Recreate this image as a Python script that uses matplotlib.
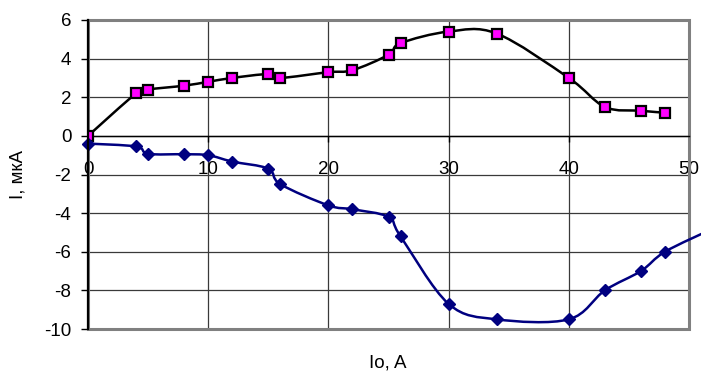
import numpy as np
import matplotlib
matplotlib.use("Agg")
from matplotlib import pyplot as plt
from matplotlib.path import Path
from matplotlib.patches import PathPatch, Rectangle

plt.rcParams['font.family'] = ['Liberation Sans', 'DejaVu Sans']
plt.rcParams['axes.unicode_minus'] = False

# current, A
io_top = [0, 4, 5, 8, 10, 12, 15, 16, 20, 22, 25, 26, 30, 34, 40, 43, 46, 48]
i_top = [0, 2.2, 2.4, 2.6, 2.8, 3.0, 3.2, 3.0, 3.3, 3.4, 4.2, 4.8, 5.4, 5.3, 3.0, 1.5, 1.3, 1.2]

io_bot = [0, 4, 5, 8, 10, 12, 15, 16, 20, 22, 25, 26, 30, 34, 40, 43, 46, 48, 52]
i_bot = [-0.4, -0.55, -0.93, -0.95, -1.0, -1.33, -1.7, -2.5, -3.6, -3.8, -4.2, -5.2,
         -8.7, -9.5, -9.5, -8.0, -7.0, -6.0, -4.8]

x_ticks = [0, 10, 20, 30, 40, 50]
y_ticks = [-10, -8, -6, -4, -2, 0, 2, 4, 6]


def smooth_path(xs, ys):
    # Excel-like smoothed line: Catmull-Rom as cubic Bezier segments
    p = np.column_stack([xs, ys]).astype(float)
    ext = np.vstack([p[0], p, p[-1]])
    verts = [p[0]]
    codes = [Path.MOVETO]
    for k in range(1, len(ext) - 2):
        p0, p1, p2, p3 = ext[k - 1], ext[k], ext[k + 1], ext[k + 2]
        verts += [p1 + (p2 - p0) / 6, p2 - (p3 - p1) / 6, p2]
        codes += [Path.CURVE4] * 3
    return Path(verts, codes)


fig = plt.figure(figsize=(7.01, 3.74), dpi=100)
ax = fig.add_axes([88 / 701, 1 - 329 / 374, 601 / 701, 309 / 374])
ax.set_xlim(0, 50)
ax.set_ylim(-10, 6)

for v in y_ticks:
    ax.axhline(v, color='#3a3a3a', lw=0.9, zorder=1)
for v in x_ticks[1:-1]:
    ax.axvline(v, color='#3a3a3a', lw=0.9, zorder=1)

ax.add_patch(Rectangle((0, 0), 1, 1, transform=ax.transAxes, fill=False,
                       ec='#808080', lw=2.2, clip_on=False, zorder=2))

ax.add_patch(PathPatch(smooth_path(io_top, i_top), fill=False, ec='black',
                       lw=1.8, zorder=3))
ax.plot(io_top, i_top, ls='none', marker='s', ms=7.5, mfc='#ff00ff',
        mec='black', mew=1.6, zorder=4)

ax.add_patch(PathPatch(smooth_path(io_bot, i_bot), fill=False, ec='#000080',
                       lw=1.8, zorder=3, clip_on=False))
ax.plot(io_bot, i_bot, ls='none', marker='D', ms=6.5, mfc='#000080',
        mec='#000080', zorder=4, clip_on=False)

for s in ['top', 'right']:
    ax.spines[s].set_visible(False)
ax.spines['bottom'].set_position(('data', 0))
ax.spines['bottom'].set_color('black')
ax.spines['bottom'].set_linewidth(1.0)
ax.spines['left'].set_linewidth(1.6)
ax.spines['left'].set_zorder(5)

ax.set_xticks(x_ticks)
ax.set_yticks(y_ticks)
ax.tick_params(axis='x', direction='out', length=4, width=1, pad=14,
               labelsize=13.5)
ax.tick_params(axis='y', direction='out', length=5, width=1, pad=7,
               labelsize=13.5)

fig.text(388 / 701, 1 - 363 / 374, 'Io, A', ha='center', va='center',
         fontsize=13.5)
fig.text(18 / 701, 1 - 174 / 374, 'I, мкА', ha='center', va='center',
         rotation=90, fontsize=13.5)

fig.savefig('out.png', dpi=100)
